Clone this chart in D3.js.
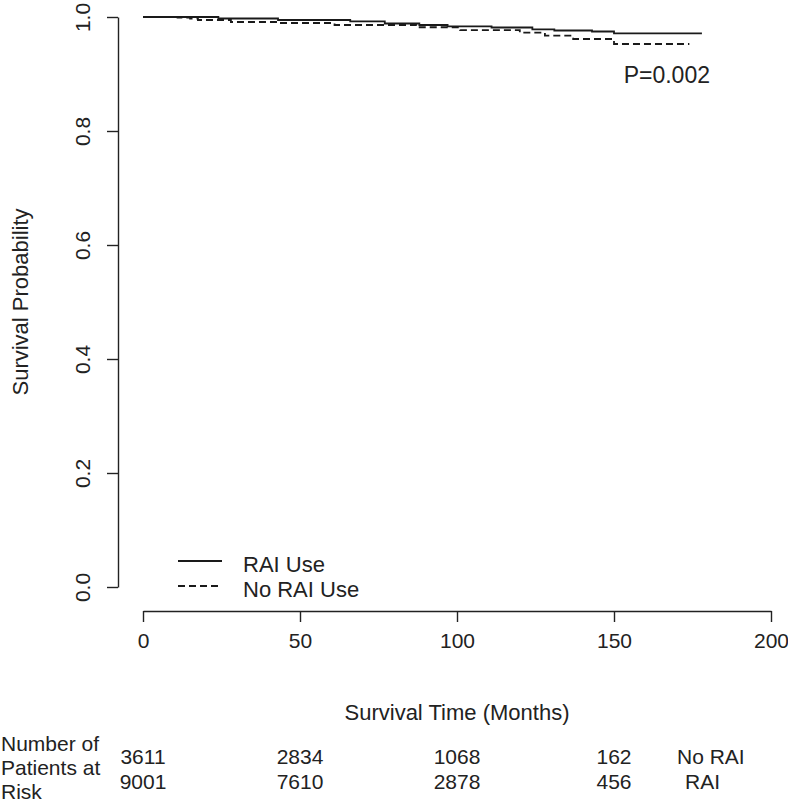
<!DOCTYPE html>
<html>
<head>
<meta charset="utf-8">
<script src="https://cdn.jsdelivr.net/npm/d3@7"></script>
<style>
  body { margin: 0; background: #fff; }
  svg text { font-family: "Liberation Sans", Arial, sans-serif; fill: #222; }
</style>
</head>
<body>
<svg id="chart"></svg>
<script>
// Kaplan-Meier steps (months, survival probability)
const raiTimes = [0, 24, 43, 66, 77, 88, 97, 111, 124, 131, 143, 150, 178];
const raiSurv  = [1.0, 0.9974, 0.9947, 0.9925, 0.9886, 0.986, 0.9837, 0.9816, 0.9784, 0.9763, 0.9746, 0.9714, 0.9714];

const noRaiTimes = [0, 11, 15, 17.5, 28, 43, 61, 87, 101, 120, 128, 137, 150, 174];
const noRaiSurv  = [1.0, 0.9988, 0.9974, 0.9947, 0.9912, 0.9895, 0.986, 0.982, 0.977, 0.9725, 0.9672, 0.9614, 0.9526, 0.9526];

const xTicks = [0, 50, 100, 150, 200];
const yTicks = [0, 0.2, 0.4, 0.6, 0.8, 1.0];

const riskTimes = [0, 50, 100, 150];
const riskNoRai = [3611, 2834, 1068, 162];
const riskRai   = [9001, 7610, 2878, 456];

const width = 788, height = 803;
const svg = d3.select('#chart').attr('width', width).attr('height', height);

const x = d3.scaleLinear().domain([0, 200]).range([143, 771]);
const y = d3.scaleLinear().domain([0, 1]).range([587, 17]);

// axes
const xAxis = d3.axisBottom(x).tickValues(xTicks).tickSize(11).tickSizeOuter(0).tickFormat(d3.format('d'));
const yAxis = d3.axisLeft(y).tickValues(yTicks).tickSize(11).tickSizeOuter(0).tickFormat(d3.format('.1f'));

const gx = svg.append('g').attr('transform', 'translate(0,611)').call(xAxis);
const gy = svg.append('g').attr('transform', 'translate(118,0)').call(yAxis);

[gx, gy].forEach(g => {
    g.select('.domain').attr('stroke', '#222').attr('stroke-width', 1.4);
    g.selectAll('.tick line').attr('stroke', '#222').attr('stroke-width', 1.4);
    g.selectAll('.tick text').attr('font-size', 21).attr('fill', '#222')
        .attr('font-family', '"Liberation Sans", Arial, sans-serif');
});
gx.selectAll('.tick text').attr('y', 22).attr('dy', '0.71em');
gy.selectAll('.tick text')
    .attr('x', null).attr('dy', null)
    .attr('text-anchor', 'middle')
    .attr('transform', 'translate(-28,0) rotate(-90)');

// curves
const line = d3.line()
    .x(d => x(d[0]))
    .y(d => y(d[1]))
    .curve(d3.curveStepAfter);

svg.append('path')
    .datum(d3.zip(raiTimes, raiSurv))
    .attr('d', line)
    .attr('fill', 'none')
    .attr('stroke', '#1a1a1a')
    .attr('stroke-width', 1.8);

svg.append('path')
    .datum(d3.zip(noRaiTimes, noRaiSurv))
    .attr('d', line)
    .attr('fill', 'none')
    .attr('stroke', '#1a1a1a')
    .attr('stroke-width', 1.8)
    .attr('stroke-dasharray', '7,4');

// p-value
svg.append('text')
    .attr('x', 710).attr('y', 83)
    .attr('text-anchor', 'end')
    .attr('font-size', 23)
    .text('P=0.002');

// legend
const legend = [
    { label: 'RAI Use', dash: null, y: 561 },
    { label: 'No RAI Use', dash: '7,4', y: 586 }
];
legend.forEach(l => {
    svg.append('line')
        .attr('x1', 178).attr('x2', 222)
        .attr('y1', l.y).attr('y2', l.y)
        .attr('stroke', '#1a1a1a').attr('stroke-width', 1.8)
        .attr('stroke-dasharray', l.dash);
    svg.append('text')
        .attr('x', 243).attr('y', l.y + 11)
        .attr('font-size', 22)
        .text(l.label);
});

// axis titles
svg.append('text')
    .attr('x', (x(0) + x(200)) / 2).attr('y', 720)
    .attr('text-anchor', 'middle')
    .attr('font-size', 22)
    .text('Survival Time (Months)');

svg.append('text')
    .attr('transform', `translate(28,${(y(0) + y(1)) / 2}) rotate(-90)`)
    .attr('text-anchor', 'middle')
    .attr('font-size', 22)
    .text('Survival Probability');

// numbers at risk
['Number of', 'Patients at', 'Risk'].forEach((s, i) => {
    svg.append('text')
        .attr('x', 1).attr('y', 751 + i * 24)
        .attr('font-size', 21)
        .text(s);
});

const rows = [
    { values: riskNoRai, label: 'No RAI', y: 764, lx: 677 },
    { values: riskRai, label: 'RAI', y: 789, lx: 685 }
];
rows.forEach(r => {
    svg.selectAll(null)
        .data(riskTimes)
        .join('text')
        .attr('x', d => x(d))
        .attr('y', r.y)
        .attr('text-anchor', 'middle')
        .attr('font-size', 21)
        .text((d, i) => r.values[i]);
    svg.append('text')
        .attr('x', r.lx).attr('y', r.y)
        .attr('font-size', 21)
        .text(r.label);
});
</script>
</body>
</html>
